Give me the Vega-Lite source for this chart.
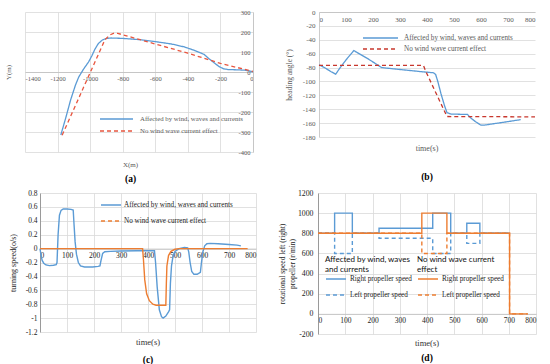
{
  "$schema": "https://vega.github.io/schema/vega-lite/v6.json",
  "padding": {"left": 4, "top": 8, "right": 2, "bottom": 2},
  "background": "white",
  "config": {
    "font": "Liberation Serif",
    "view": {"stroke": null},
    "axis": {
      "labelFont": "Liberation Serif",
      "titleFont": "Liberation Serif",
      "titleFontWeight": "normal",
      "gridColor": "#D9D9D9",
      "gridWidth": 0.8,
      "domainColor": "#BFBFBF",
      "domainWidth": 0.8,
      "ticks": false,
      "labelFontSize": 7,
      "titleFontSize": 7.5,
      "labelPadding": 3
    },
    "legend": {
      "labelFont": "Liberation Serif",
      "symbolType": "stroke",
      "symbolStrokeWidth": 1.5,
      "padding": 0,
      "clipHeight": 8,
      "title": null
    },
    "title": {
      "font": "Liberation Serif",
      "fontWeight": "normal",
      "subtitleFont": "Liberation Serif",
      "subtitleFontWeight": "bold",
      "subtitleFontSize": 9.5,
      "subtitleColor": "#000000",
      "anchor": "middle",
      "frame": "group",
      "orient": "bottom"
    }
  },
  "datasets": {
    "trajA": [
      {"x": -1180, "y": -315, "sa": "Affected by wind, waves and currents"},
      {"x": -1150, "y": -230, "sa": "Affected by wind, waves and currents"},
      {"x": -1120, "y": -140, "sa": "Affected by wind, waves and currents"},
      {"x": -1090, "y": -65, "sa": "Affected by wind, waves and currents"},
      {"x": -1070, "y": -25, "sa": "Affected by wind, waves and currents"},
      {"x": -1040, "y": 15, "sa": "Affected by wind, waves and currents"},
      {"x": -1010, "y": 50, "sa": "Affected by wind, waves and currents"},
      {"x": -990, "y": 80, "sa": "Affected by wind, waves and currents"},
      {"x": -970, "y": 115, "sa": "Affected by wind, waves and currents"},
      {"x": -950, "y": 142, "sa": "Affected by wind, waves and currents"},
      {"x": -925, "y": 160, "sa": "Affected by wind, waves and currents"},
      {"x": -900, "y": 168, "sa": "Affected by wind, waves and currents"},
      {"x": -870, "y": 170, "sa": "Affected by wind, waves and currents"},
      {"x": -800, "y": 168, "sa": "Affected by wind, waves and currents"},
      {"x": -700, "y": 162, "sa": "Affected by wind, waves and currents"},
      {"x": -600, "y": 152, "sa": "Affected by wind, waves and currents"},
      {"x": -500, "y": 140, "sa": "Affected by wind, waves and currents"},
      {"x": -420, "y": 125, "sa": "Affected by wind, waves and currents"},
      {"x": -360, "y": 108, "sa": "Affected by wind, waves and currents"},
      {"x": -300, "y": 88, "sa": "Affected by wind, waves and currents"},
      {"x": -270, "y": 66, "sa": "Affected by wind, waves and currents"},
      {"x": -243, "y": 49, "sa": "Affected by wind, waves and currents"},
      {"x": -210, "y": 28, "sa": "Affected by wind, waves and currents"},
      {"x": -181, "y": 16, "sa": "Affected by wind, waves and currents"},
      {"x": -150, "y": 12, "sa": "Affected by wind, waves and currents"},
      {"x": -100, "y": 11, "sa": "Affected by wind, waves and currents"},
      {"x": -50, "y": 9, "sa": "Affected by wind, waves and currents"},
      {"x": -20, "y": 5, "sa": "Affected by wind, waves and currents"},
      {"x": 0, "y": 0, "sa": "Affected by wind, waves and currents"},
      {"x": -1172, "y": -316, "sa": "No wind wave current effect"},
      {"x": -910, "y": 160, "sa": "No wind wave current effect"},
      {"x": -880, "y": 185, "sa": "No wind wave current effect"},
      {"x": -850, "y": 195, "sa": "No wind wave current effect"},
      {"x": -830, "y": 193, "sa": "No wind wave current effect"},
      {"x": -600, "y": 140, "sa": "No wind wave current effect"},
      {"x": -400, "y": 94, "sa": "No wind wave current effect"},
      {"x": -200, "y": 43, "sa": "No wind wave current effect"},
      {"x": 0, "y": 3, "sa": "No wind wave current effect"}
    ],
    "headB": [
      {"tb": 0, "vb": -76, "sb": "Affected by wind, waves and currents"},
      {"tb": 20, "vb": -80, "sb": "Affected by wind, waves and currents"},
      {"tb": 45, "vb": -86, "sb": "Affected by wind, waves and currents"},
      {"tb": 62, "vb": -89.5, "sb": "Affected by wind, waves and currents"},
      {"tb": 75, "vb": -82, "sb": "Affected by wind, waves and currents"},
      {"tb": 100, "vb": -69, "sb": "Affected by wind, waves and currents"},
      {"tb": 129, "vb": -55.5, "sb": "Affected by wind, waves and currents"},
      {"tb": 140, "vb": -58, "sb": "Affected by wind, waves and currents"},
      {"tb": 180, "vb": -67, "sb": "Affected by wind, waves and currents"},
      {"tb": 232, "vb": -80, "sb": "Affected by wind, waves and currents"},
      {"tb": 280, "vb": -82, "sb": "Affected by wind, waves and currents"},
      {"tb": 331, "vb": -84, "sb": "Affected by wind, waves and currents"},
      {"tb": 380, "vb": -86, "sb": "Affected by wind, waves and currents"},
      {"tb": 424, "vb": -87.5, "sb": "Affected by wind, waves and currents"},
      {"tb": 432, "vb": -90, "sb": "Affected by wind, waves and currents"},
      {"tb": 440, "vb": -100, "sb": "Affected by wind, waves and currents"},
      {"tb": 452, "vb": -118, "sb": "Affected by wind, waves and currents"},
      {"tb": 465, "vb": -135, "sb": "Affected by wind, waves and currents"},
      {"tb": 474, "vb": -145, "sb": "Affected by wind, waves and currents"},
      {"tb": 490, "vb": -147, "sb": "Affected by wind, waves and currents"},
      {"tb": 550, "vb": -147.5, "sb": "Affected by wind, waves and currents"},
      {"tb": 560, "vb": -152, "sb": "Affected by wind, waves and currents"},
      {"tb": 580, "vb": -158, "sb": "Affected by wind, waves and currents"},
      {"tb": 600, "vb": -163, "sb": "Affected by wind, waves and currents"},
      {"tb": 610, "vb": -163, "sb": "Affected by wind, waves and currents"},
      {"tb": 680, "vb": -159, "sb": "Affected by wind, waves and currents"},
      {"tb": 747, "vb": -155, "sb": "Affected by wind, waves and currents"},
      {"tb": 0, "vb": -77, "sb": "No wind wave current effect"},
      {"tb": 387, "vb": -77, "sb": "No wind wave current effect"},
      {"tb": 395, "vb": -85, "sb": "No wind wave current effect"},
      {"tb": 474, "vb": -150.5, "sb": "No wind wave current effect"},
      {"tb": 800, "vb": -151, "sb": "No wind wave current effect"}
    ],
    "turnC": [
      {"tc": 0, "vc": 0, "sc": "Affected by wind, waves and currents"},
      {"tc": 4, "vc": -0.1, "sc": "Affected by wind, waves and currents"},
      {"tc": 8, "vc": -0.17, "sc": "Affected by wind, waves and currents"},
      {"tc": 14, "vc": -0.21, "sc": "Affected by wind, waves and currents"},
      {"tc": 22, "vc": -0.235, "sc": "Affected by wind, waves and currents"},
      {"tc": 35, "vc": -0.245, "sc": "Affected by wind, waves and currents"},
      {"tc": 50, "vc": -0.24, "sc": "Affected by wind, waves and currents"},
      {"tc": 60, "vc": -0.23, "sc": "Affected by wind, waves and currents"},
      {"tc": 63, "vc": -0.2, "sc": "Affected by wind, waves and currents"},
      {"tc": 67, "vc": 0.2, "sc": "Affected by wind, waves and currents"},
      {"tc": 72, "vc": 0.48, "sc": "Affected by wind, waves and currents"},
      {"tc": 78, "vc": 0.55, "sc": "Affected by wind, waves and currents"},
      {"tc": 86, "vc": 0.57, "sc": "Affected by wind, waves and currents"},
      {"tc": 100, "vc": 0.57, "sc": "Affected by wind, waves and currents"},
      {"tc": 115, "vc": 0.565, "sc": "Affected by wind, waves and currents"},
      {"tc": 123, "vc": 0.555, "sc": "Affected by wind, waves and currents"},
      {"tc": 126, "vc": 0.35, "sc": "Affected by wind, waves and currents"},
      {"tc": 130, "vc": 0.1, "sc": "Affected by wind, waves and currents"},
      {"tc": 135, "vc": -0.08, "sc": "Affected by wind, waves and currents"},
      {"tc": 142, "vc": -0.2, "sc": "Affected by wind, waves and currents"},
      {"tc": 150, "vc": -0.25, "sc": "Affected by wind, waves and currents"},
      {"tc": 165, "vc": -0.265, "sc": "Affected by wind, waves and currents"},
      {"tc": 195, "vc": -0.265, "sc": "Affected by wind, waves and currents"},
      {"tc": 215, "vc": -0.255, "sc": "Affected by wind, waves and currents"},
      {"tc": 222, "vc": -0.25, "sc": "Affected by wind, waves and currents"},
      {"tc": 226, "vc": -0.17, "sc": "Affected by wind, waves and currents"},
      {"tc": 232, "vc": -0.07, "sc": "Affected by wind, waves and currents"},
      {"tc": 240, "vc": -0.045, "sc": "Affected by wind, waves and currents"},
      {"tc": 260, "vc": -0.04, "sc": "Affected by wind, waves and currents"},
      {"tc": 300, "vc": -0.035, "sc": "Affected by wind, waves and currents"},
      {"tc": 360, "vc": -0.03, "sc": "Affected by wind, waves and currents"},
      {"tc": 424, "vc": -0.03, "sc": "Affected by wind, waves and currents"},
      {"tc": 428, "vc": -0.2, "sc": "Affected by wind, waves and currents"},
      {"tc": 434, "vc": -0.55, "sc": "Affected by wind, waves and currents"},
      {"tc": 442, "vc": -0.88, "sc": "Affected by wind, waves and currents"},
      {"tc": 450, "vc": -0.98, "sc": "Affected by wind, waves and currents"},
      {"tc": 456, "vc": -1.0, "sc": "Affected by wind, waves and currents"},
      {"tc": 466, "vc": -0.97, "sc": "Affected by wind, waves and currents"},
      {"tc": 476, "vc": -0.91, "sc": "Affected by wind, waves and currents"},
      {"tc": 480, "vc": -0.88, "sc": "Affected by wind, waves and currents"},
      {"tc": 483, "vc": -0.5, "sc": "Affected by wind, waves and currents"},
      {"tc": 487, "vc": -0.25, "sc": "Affected by wind, waves and currents"},
      {"tc": 493, "vc": -0.1, "sc": "Affected by wind, waves and currents"},
      {"tc": 500, "vc": -0.04, "sc": "Affected by wind, waves and currents"},
      {"tc": 515, "vc": 0, "sc": "Affected by wind, waves and currents"},
      {"tc": 535, "vc": 0.015, "sc": "Affected by wind, waves and currents"},
      {"tc": 547, "vc": 0.01, "sc": "Affected by wind, waves and currents"},
      {"tc": 551, "vc": -0.05, "sc": "Affected by wind, waves and currents"},
      {"tc": 556, "vc": -0.2, "sc": "Affected by wind, waves and currents"},
      {"tc": 562, "vc": -0.33, "sc": "Affected by wind, waves and currents"},
      {"tc": 570, "vc": -0.37, "sc": "Affected by wind, waves and currents"},
      {"tc": 582, "vc": -0.37, "sc": "Affected by wind, waves and currents"},
      {"tc": 594, "vc": -0.34, "sc": "Affected by wind, waves and currents"},
      {"tc": 598, "vc": -0.2, "sc": "Affected by wind, waves and currents"},
      {"tc": 603, "vc": -0.05, "sc": "Affected by wind, waves and currents"},
      {"tc": 610, "vc": 0.04, "sc": "Affected by wind, waves and currents"},
      {"tc": 618, "vc": 0.07, "sc": "Affected by wind, waves and currents"},
      {"tc": 630, "vc": 0.075, "sc": "Affected by wind, waves and currents"},
      {"tc": 660, "vc": 0.07, "sc": "Affected by wind, waves and currents"},
      {"tc": 700, "vc": 0.06, "sc": "Affected by wind, waves and currents"},
      {"tc": 730, "vc": 0.05, "sc": "Affected by wind, waves and currents"},
      {"tc": 744, "vc": 0.04, "sc": "Affected by wind, waves and currents"},
      {"tc": 0, "vc": 0, "sc": "No wind  wave  current effect"},
      {"tc": 380, "vc": 0, "sc": "No wind  wave  current effect"},
      {"tc": 383, "vc": -0.15, "sc": "No wind  wave  current effect"},
      {"tc": 388, "vc": -0.45, "sc": "No wind  wave  current effect"},
      {"tc": 395, "vc": -0.65, "sc": "No wind  wave  current effect"},
      {"tc": 405, "vc": -0.75, "sc": "No wind  wave  current effect"},
      {"tc": 418, "vc": -0.8, "sc": "No wind  wave  current effect"},
      {"tc": 430, "vc": -0.815, "sc": "No wind  wave  current effect"},
      {"tc": 466, "vc": -0.815, "sc": "No wind  wave  current effect"},
      {"tc": 468, "vc": -0.5, "sc": "No wind  wave  current effect"},
      {"tc": 470, "vc": -0.25, "sc": "No wind  wave  current effect"},
      {"tc": 476, "vc": -0.1, "sc": "No wind  wave  current effect"},
      {"tc": 485, "vc": -0.04, "sc": "No wind  wave  current effect"},
      {"tc": 500, "vc": -0.01, "sc": "No wind  wave  current effect"},
      {"tc": 515, "vc": 0, "sc": "No wind  wave  current effect"},
      {"tc": 769, "vc": 0, "sc": "No wind  wave  current effect"}
    ],
    "propD": [
      {"td": 0, "vd": 800, "sd": "Right propeller speed|A"},
      {"td": 61, "vd": 1000, "sd": "Right propeller speed|A"},
      {"td": 126, "vd": 800, "sd": "Right propeller speed|A"},
      {"td": 224, "vd": 850, "sd": "Right propeller speed|A"},
      {"td": 421, "vd": 1000, "sd": "Right propeller speed|A"},
      {"td": 487, "vd": 800, "sd": "Right propeller speed|A"},
      {"td": 546, "vd": 900, "sd": "Right propeller speed|A"},
      {"td": 594, "vd": 800, "sd": "Right propeller speed|A"},
      {"td": 700, "vd": 800, "sd": "Right propeller speed|A"},
      {"td": 0, "vd": 800, "sd": "Left propeller speed|A"},
      {"td": 61, "vd": 600, "sd": "Left propeller speed|A"},
      {"td": 126, "vd": 800, "sd": "Left propeller speed|A"},
      {"td": 224, "vd": 750, "sd": "Left propeller speed|A"},
      {"td": 421, "vd": 600, "sd": "Left propeller speed|A"},
      {"td": 487, "vd": 800, "sd": "Left propeller speed|A"},
      {"td": 546, "vd": 700, "sd": "Left propeller speed|A"},
      {"td": 594, "vd": 800, "sd": "Left propeller speed|A"},
      {"td": 700, "vd": 800, "sd": "Left propeller speed|A"},
      {"td": 0, "vd": 800, "sd": "Right propeller speed|N"},
      {"td": 381, "vd": 1000, "sd": "Right propeller speed|N"},
      {"td": 473, "vd": 800, "sd": "Right propeller speed|N"},
      {"td": 703, "vd": 0, "sd": "Right propeller speed|N"},
      {"td": 770, "vd": 0, "sd": "Right propeller speed|N"},
      {"td": 0, "vd": 800, "sd": "Left propeller speed|N"},
      {"td": 381, "vd": 600, "sd": "Left propeller speed|N"},
      {"td": 473, "vd": 800, "sd": "Left propeller speed|N"},
      {"td": 703, "vd": 0, "sd": "Left propeller speed|N"},
      {"td": 770, "vd": 0, "sd": "Left propeller speed|N"}
    ]
  },
  "spacing": 6,
  "resolve": {"scale": {"color": "independent", "strokeDash": "independent", "x": "independent", "y": "independent"}, "legend": {"color": "independent", "strokeDash": "independent"}},
  "vconcat": [
    {
      "spacing": 17,
      "resolve": {"scale": {"color": "independent", "strokeDash": "independent", "x": "independent", "y": "independent"}, "legend": {"color": "independent", "strokeDash": "independent"}},
      "hconcat": [
        {
          "width": 213,
          "height": 140,
          "data": {"name": "trajA"},
          "title": {"text": "X(m)", "subtitle": "(a)", "offset": 5, "dx": -16, "fontSize": 7, "color": "#595959", "subtitlePadding": 6},
          "mark": {"type": "line", "strokeWidth": 1.3},
          "encoding": {
            "x": {"field": "x", "type": "quantitative", "scale": {"domain": [-1400, 0], "range": [-15, 213], "nice": false, "zero": false},
              "axis": {"orient": "bottom", "offset": -80, "values": [-1400, -1200, -1000, -800, -600, -400, -200, 0], "labelExpr": "toString(datum.value)", "title": null, "grid": true, "labelColor": "#595959", "labelFontSize": 6.5}},
            "y": {"field": "y", "type": "quantitative", "scale": {"domain": [-400, 300], "nice": false, "zero": false},
              "axis": {"orient": "left", "offset": -213, "values": [-400, -300, -200, -100, 0, 100, 200, 300], "labelExpr": "toString(datum.value)", "title": "Y(m)", "titleX": -242, "titleY": 60, "titleColor": "#595959", "titleFontSize": 7, "grid": true, "labelColor": "#595959", "labelFontSize": 6.5}},
            "color": {"field": "sa", "type": "nominal", "scale": {"domain": ["Affected by wind, waves and currents", "No wind wave current effect"], "range": ["#5B9BD5", "#E8553F"]},
              "legend": {"orient": "none", "legendX": 59, "legendY": 103, "symbolSize": 1089, "labelFontSize": 6.8, "labelColor": "#595959", "rowPadding": 4, "labelOffset": 6}},
            "strokeDash": {"field": "sa", "type": "nominal", "scale": {"domain": ["Affected by wind, waves and currents", "No wind wave current effect"], "range": [[1, 0], [4, 3]]}}
          }
        },
        {
          "width": 216,
          "height": 125,
          "data": {"name": "headB"},
          "title": {"text": "time(s)", "subtitle": "(b)", "offset": 5, "fontSize": 8, "color": "#595959", "subtitlePadding": 19},
          "mark": {"type": "line", "strokeWidth": 1.3},
          "encoding": {
            "x": {"field": "tb", "type": "quantitative", "scale": {"domain": [0, 800], "nice": false},
              "axis": {"orient": "bottom", "offset": -125, "values": [0, 100, 200, 300, 400, 500, 600, 700, 800], "title": null, "grid": false, "labelColor": "#595959", "labelFontSize": 7}},
            "y": {"field": "vb", "type": "quantitative", "scale": {"domain": [-180, 0], "nice": false},
              "axis": {"values": [-180, -160, -140, -120, -100, -80, -60, -40, -20, 0], "labelExpr": "toString(datum.value)", "title": "heading angle (°)", "titleColor": "#595959", "titleFontSize": 7.5, "titlePadding": 9, "labelPadding": 4, "grid": true, "labelColor": "#595959", "labelFontSize": 7}},
            "color": {"field": "sb", "type": "nominal", "scale": {"domain": ["Affected by wind, waves and currents", "No wind wave current effect"], "range": ["#5B9BD5", "#C8372D"]},
              "legend": {"orient": "none", "legendX": 43, "legendY": 22, "symbolSize": 1225, "labelFontSize": 7.2, "labelColor": "#595959", "rowPadding": 3, "labelOffset": 5}},
            "strokeDash": {"field": "sb", "type": "nominal", "scale": {"domain": ["Affected by wind, waves and currents", "No wind wave current effect"], "range": [[1, 0], [4, 3]]}}
          }
        }
      ]
    },
    {
      "spacing": 22,
      "resolve": {"scale": {"color": "independent", "strokeDash": "independent", "x": "independent", "y": "independent"}, "legend": {"color": "independent", "strokeDash": "independent"}},
      "hconcat": [
        {
          "width": 216,
          "height": 139,
          "data": {"name": "turnC"},
          "title": {"text": "time(s)", "subtitle": "(c)", "offset": 2, "fontSize": 8.5, "color": "#333333", "subtitlePadding": 9},
          "mark": {"type": "line", "strokeWidth": 1.4},
          "encoding": {
            "x": {"field": "tc", "type": "quantitative", "scale": {"domain": [0, 800], "nice": false},
              "axis": {"orient": "bottom", "offset": -83.4, "values": [0, 100, 200, 300, 400, 500, 600, 700, 800], "title": null, "grid": true, "labelColor": "#222222", "labelFontSize": 7.5}},
            "y": {"field": "vc", "type": "quantitative", "scale": {"domain": [-1.2, 0.8], "nice": false, "zero": false},
              "axis": {"values": [-1.2, -1, -0.8, -0.6, -0.4, -0.2, 0, 0.2, 0.4, 0.6, 0.8], "labelExpr": "toString(datum.value)", "title": "turning speed(o/s)", "titleColor": "#222222", "titleFontSize": 8, "titlePadding": 8, "grid": true, "labelColor": "#222222", "labelFontSize": 7.5, "domainColor": "#888888"}},
            "color": {"field": "sc", "type": "nominal", "scale": {"domain": ["Affected by wind, waves and currents", "No wind  wave  current effect"], "range": ["#5B9BD5", "#ED7D31"]},
              "legend": {"orient": "none", "legendX": 60, "legendY": 8, "symbolSize": 400, "labelFontSize": 7.2, "labelColor": "#222222", "rowPadding": 8, "labelOffset": 2,
                "encode": {"symbols": {"update": {"strokeDash": {"signal": "indexof(datum.value, 'No wind') >= 0 ? [4, 3] : [1, 0]"}}}}}}
          }
        },
        {
          "width": 218,
          "height": 141,
          "title": {"text": "time(s)", "subtitle": "(d)", "offset": 1, "fontSize": 8.5, "color": "#333333", "subtitlePadding": 6},
          "data": {"name": "propD"},
          "encoding": {
            "x": {"field": "td", "type": "quantitative", "scale": {"domain": [0, 800], "nice": false},
              "axis": {"orient": "bottom", "offset": -20.14, "values": [0, 100, 200, 300, 400, 500, 600, 700, 800], "title": null, "grid": true, "labelColor": "#222222", "labelFontSize": 7.5}},
            "y": {"field": "vd", "type": "quantitative", "scale": {"domain": [-200, 1200], "nice": false, "zero": false},
              "axis": {"values": [-200, 0, 200, 400, 600, 800, 1000, 1200], "labelExpr": "toString(datum.value)", "title": ["rotational speed left (right)", "propeller (r/min)"], "titleColor": "#222222", "titleFontSize": 7.5, "titlePadding": 1, "labelPadding": 5, "grid": true, "labelColor": "#222222", "labelFontSize": 7.8, "domainColor": "#888888"}}
          },
          "resolve": {"scale": {"color": "independent", "strokeDash": "independent"}, "legend": {"color": "independent", "strokeDash": "independent"}},
          "layer": [
            {
              "transform": [{"filter": "indexof(datum.sd, '|A') >= 0"}],
              "mark": {"type": "line", "interpolate": "step-after", "strokeWidth": 1.4},
              "encoding": {
                "color": {"field": "sd", "type": "nominal", "scale": {"domain": ["Right propeller speed|A", "Left propeller speed|A"], "range": ["#5B9BD5", "#5B9BD5"]},
                  "legend": {"orient": "none", "legendX": 7, "legendY": 63, "title": ["Affected by wind, waves", "and currents"], "titleFont": "Liberation Sans Narrow, Lato, sans-serif", "titleFontSize": 8, "titleFontWeight": "normal", "titleColor": "#111111", "titleLineHeight": 10, "titlePadding": 1, "titleLimit": 300, "symbolSize": 400, "labelFontSize": 7.2, "labelColor": "#222222", "rowPadding": 8, "labelOffset": 3, "labelExpr": "split(datum.label, '|')[0]"}},
                "strokeDash": {"field": "sd", "type": "nominal", "scale": {"domain": ["Right propeller speed|A", "Left propeller speed|A"], "range": [[1, 0], [4, 3]]},
                  "legend": {"orient": "none", "legendX": 7, "legendY": 63, "title": ["Affected by wind, waves", "and currents"], "titleFont": "Liberation Sans Narrow, Lato, sans-serif", "titleFontSize": 8, "titleFontWeight": "normal", "titleColor": "#111111", "titleLineHeight": 10, "titlePadding": 1, "titleLimit": 300, "symbolSize": 400, "labelFontSize": 7.2, "labelColor": "#222222", "rowPadding": 8, "labelOffset": 3, "labelExpr": "split(datum.label, '|')[0]"}}
              }
            },
            {
              "transform": [{"filter": "indexof(datum.sd, '|N') >= 0"}],
              "mark": {"type": "line", "interpolate": "step-after", "strokeWidth": 1.4},
              "encoding": {
                "color": {"field": "sd", "type": "nominal", "scale": {"domain": ["Right propeller speed|N", "Left propeller speed|N"], "range": ["#ED7D31", "#ED7D31"]},
                  "legend": {"orient": "none", "legendX": 99, "legendY": 63, "title": ["No wind wave current", "effect"], "titleFont": "Liberation Sans Narrow, Lato, sans-serif", "titleFontSize": 8, "titleFontWeight": "normal", "titleColor": "#111111", "titleLineHeight": 10, "titlePadding": 1, "titleLimit": 300, "symbolSize": 400, "labelFontSize": 7.2, "labelColor": "#222222", "rowPadding": 8, "labelOffset": 3, "labelExpr": "split(datum.label, '|')[0]"}},
                "strokeDash": {"field": "sd", "type": "nominal", "scale": {"domain": ["Right propeller speed|N", "Left propeller speed|N"], "range": [[1, 0], [4, 3]]},
                  "legend": {"orient": "none", "legendX": 99, "legendY": 63, "title": ["No wind wave current", "effect"], "titleFont": "Liberation Sans Narrow, Lato, sans-serif", "titleFontSize": 8, "titleFontWeight": "normal", "titleColor": "#111111", "titleLineHeight": 10, "titlePadding": 1, "titleLimit": 300, "symbolSize": 400, "labelFontSize": 7.2, "labelColor": "#222222", "rowPadding": 8, "labelOffset": 3, "labelExpr": "split(datum.label, '|')[0]"}}
              }
            }
          ]
        }
      ]
    }
  ]
}
